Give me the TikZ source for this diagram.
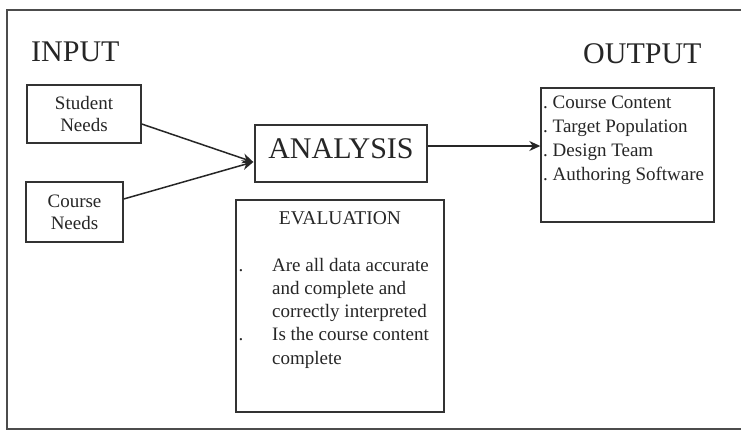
\documentclass[tikz,border=0pt]{standalone}
\usepackage{fontspec}
\setmainfont{Liberation Serif}
\usetikzlibrary{arrows.meta}
\begin{document}
\begin{tikzpicture}[x=1pt,y=-1pt,
  boxed/.style={draw=black!80, line width=1.4pt, inner sep=0pt, align=center},
  body/.style={font=\fontsize{19}{22}\selectfont, text=black!85},
  heading/.style={font=\fontsize{30}{36}\selectfont, text=black!85},
  line/.style={body, anchor=base west, inner sep=0pt},
  link/.style={draw=black!85, line width=1.5pt, -{Stealth[length=11pt,width=10pt]}},
  frameline/.style={draw=black!70, line width=1.3pt}]
\useasboundingbox (0,0) rectangle (741,431);
\fill[white] (0,0) rectangle (741,431);
% surrounding frame (open on the right)
\draw[frameline] (741,10) -- (7,10) -- (7,429) -- (741,429);

% headings
\node[heading, anchor=base west, inner sep=0pt] (input) at (31,61) {INPUT};
\node[heading, anchor=base west, inner sep=0pt] (outputhead) at (583,63) {OUTPUT};

% input boxes
\node[boxed, body, minimum width=114pt, minimum height=58pt] (student) at (84,114) {Student\\Needs};
\node[boxed, body, minimum width=97pt, minimum height=60pt] (course) at (74.5,212) {Course\\Needs};

% analysis
\node[boxed, heading, minimum width=172pt, minimum height=57pt,
      text height=20pt, text depth=11pt] (analysis) at (341,153.5) {ANALYSIS};

% output list
\node[boxed, minimum width=173pt, minimum height=134pt] (output) at (627.5,155) {};
\foreach \t [count=\i] in {Course Content, Target Population, Design Team, Authoring Software}
  \node[line] (out\i) at (543,{108+24.3*(\i-1)}) {.\ \t};

% evaluation
\node[boxed, minimum width=208pt, minimum height=212pt] (eval) at (340,306) {};
\node[body, anchor=base, inner sep=0pt, font=\fontsize{19.5}{22}\selectfont] (evaltitle) at (340,224) {EVALUATION};
\foreach \t [count=\i] in {Are all data accurate, and complete and, correctly interpreted, Is the course content, complete}
  \node[line] (evl\i) at (272,{271+23.3*(\i-1)}) {\t};
\node[body, anchor=base, inner sep=0pt] (dot1) at (241,271) {.};
\node[body, anchor=base, inner sep=0pt] (dot2) at (241,340.9) {.};

% connectors
\coordinate (join) at ([yshift=-8.5pt,xshift=-1pt]analysis.west);
\draw[link] ([yshift=-10pt]student.east) -- (join);
\draw[link] ([yshift=13pt]course.east) -- (join);
\coordinate (aout) at ([yshift=7.5pt]analysis.east);
\draw[link] (aout) -- (aout -| output.west);
\end{tikzpicture}
\end{document}
